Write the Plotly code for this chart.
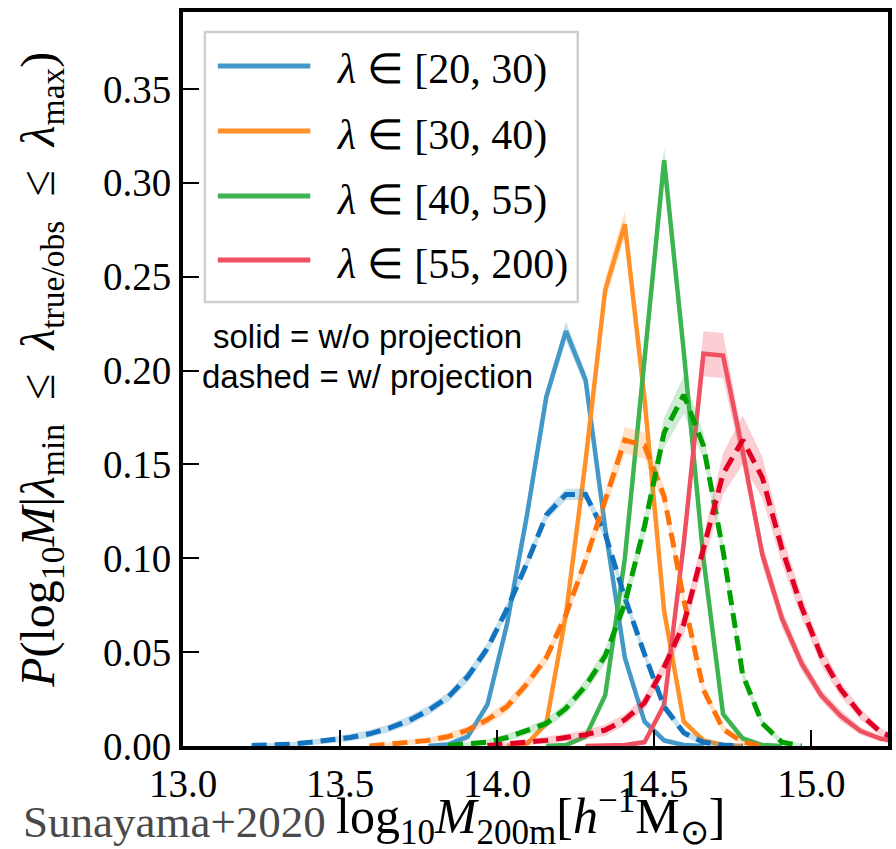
import plotly.graph_objects as go

# ---------------- data ----------------
x_bins = [13.21875, 13.28125, 13.34375, 13.40625, 13.46875, 13.53125, 13.59375,
          13.65625, 13.71875, 13.78125, 13.84375, 13.90625, 13.96875, 14.03125,
          14.09375, 14.15625, 14.21875, 14.28125, 14.34375, 14.40625, 14.46875,
          14.53125, 14.59375, 14.65625, 14.71875, 14.78125, 14.84375, 14.90625,
          14.96875, 15.03125, 15.09375, 15.15625, 15.21875, 15.28125]

labels = ["[20, 30)", "[30, 40)", "[40, 55)", "[55, 200)"]

# first bin index of each series (values before it are not drawn)
blue_solid_start = 9
blue_solid = [0.0, 0.0008, 0.005, 0.022, 0.065, 0.122, 0.186, 0.221, 0.195, 0.116,
              0.047, 0.013, 0.003, 0.0005, 0.0]
blue_solid_err = [0.001, 0.0015, 0.002, 0.0025, 0.003, 0.0035, 0.004, 0.005, 0.004,
                  0.003, 0.0025, 0.002, 0.0015, 0.001, 0.001]

blue_dash_start = 0
blue_dash = [0.0003, 0.0006, 0.001, 0.002, 0.003, 0.0045, 0.0065, 0.0095, 0.0135,
             0.019, 0.026, 0.037, 0.052, 0.073, 0.097, 0.123, 0.134, 0.134, 0.113,
             0.079, 0.049, 0.021, 0.007, 0.002, 0.0005, 0.0]
blue_dash_err = [0.001, 0.001, 0.001, 0.0015, 0.0015, 0.002, 0.002, 0.002, 0.0025,
                 0.0025, 0.0025, 0.003, 0.003, 0.003, 0.003, 0.003, 0.003, 0.003,
                 0.003, 0.003, 0.0025, 0.0025, 0.002, 0.0015, 0.001, 0.001]

orange_solid_start = 13
orange_solid = [0.0, 0.001, 0.012, 0.07, 0.152, 0.243, 0.278, 0.185, 0.072, 0.013,
                0.003, 0.0005, 0.0]
orange_solid_err = [0.001, 0.001, 0.002, 0.003, 0.005, 0.006, 0.007, 0.005, 0.003,
                    0.002, 0.001, 0.001, 0.001]

orange_dash_start = 6
orange_dash = [0.0, 0.001, 0.002, 0.003, 0.005, 0.0085, 0.014, 0.021, 0.033, 0.047,
               0.07, 0.099, 0.131, 0.163, 0.160, 0.133, 0.078, 0.03, 0.009, 0.002, 0.0]
orange_dash_err = [0.001, 0.001, 0.0015, 0.0015, 0.002, 0.002, 0.0025, 0.003, 0.003,
                   0.003, 0.0035, 0.004, 0.005, 0.007, 0.007, 0.005, 0.004, 0.003,
                   0.002, 0.0015, 0.001]

green_solid_start = 15
green_solid = [0.0, 0.0005, 0.005, 0.027, 0.10, 0.207, 0.312, 0.21, 0.10, 0.017,
               0.004, 0.0005, 0.0]
green_solid_err = [0.001, 0.001, 0.0015, 0.002, 0.004, 0.005, 0.007, 0.005, 0.004,
                   0.002, 0.0015, 0.001, 0.001]

green_dash_start = 10
green_dash = [0.0003, 0.001, 0.002, 0.0045, 0.008, 0.012, 0.02, 0.032, 0.048, 0.076,
              0.117, 0.167, 0.187, 0.16, 0.104, 0.038, 0.012, 0.002, 0.0]
green_dash_err = [0.001, 0.001, 0.0015, 0.002, 0.002, 0.0025, 0.003, 0.0035, 0.004,
                  0.005, 0.006, 0.008, 0.01, 0.007, 0.005, 0.003, 0.002, 0.0015, 0.001]

red_solid_start = 17
red_solid = [0.0, 0.0003, 0.0005, 0.002, 0.022, 0.108, 0.209, 0.208, 0.157, 0.102,
             0.068, 0.044, 0.027, 0.016, 0.008, 0.004, 0.002]
red_solid_err = [0.001, 0.001, 0.001, 0.0015, 0.003, 0.007, 0.012, 0.012, 0.008,
                 0.006, 0.005, 0.004, 0.003, 0.003, 0.002, 0.0015, 0.001]

red_dash_start = 12
red_dash = [0.0003, 0.001, 0.002, 0.003, 0.0045, 0.006, 0.0085, 0.014, 0.023, 0.042,
            0.065, 0.104, 0.145, 0.163, 0.143, 0.105, 0.074, 0.048, 0.030, 0.017,
            0.0076, 0.003]
red_dash_err = [0.001, 0.001, 0.0015, 0.002, 0.002, 0.0025, 0.003, 0.003, 0.0035,
                0.004, 0.006, 0.008, 0.011, 0.013, 0.011, 0.008, 0.006, 0.005, 0.004,
                0.003, 0.002, 0.0015]

# ---------------- styles ----------------
solid_colors = ["#4398c8", "#ff9128", "#3cb450", "#ee505f"]
dash_colors = ["#1473be", "#ff730a", "#00a000", "#e10023"]
solid_band = ["rgba(67,152,200,0.30)", "rgba(255,145,40,0.25)",
              "rgba(60,180,80,0.25)", "rgba(238,80,95,0.28)"]
dash_band = ["rgba(67,152,200,0.30)", "rgba(255,145,40,0.25)",
             "rgba(60,180,80,0.25)", "rgba(238,80,95,0.28)"]

solids = [(blue_solid_start, blue_solid, blue_solid_err),
          (orange_solid_start, orange_solid, orange_solid_err),
          (green_solid_start, green_solid, green_solid_err),
          (red_solid_start, red_solid, red_solid_err)]
dashes = [(blue_dash_start, blue_dash, blue_dash_err),
          (orange_dash_start, orange_dash, orange_dash_err),
          (green_dash_start, green_dash, green_dash_err),
          (red_dash_start, red_dash, red_dash_err)]

fig = go.Figure()


def add_series(start, vals, errs, color, band_color, dash, width):
    xs = x_bins[start:start + len(vals)]
    upper = [v + e for v, e in zip(vals, errs)]
    lower = [v - e for v, e in zip(vals, errs)]
    fig.add_trace(go.Scatter(x=xs + xs[::-1], y=upper + lower[::-1], fill="toself",
                             fillcolor=band_color, line=dict(width=0), mode="lines",
                             hoverinfo="skip", showlegend=False))
    fig.add_trace(go.Scatter(x=xs, y=vals, mode="lines",
                             line=dict(color=color, width=width, dash=dash),
                             showlegend=False))


for i, (s, v, e) in enumerate(solids):
    add_series(s, v, e, solid_colors[i], solid_band[i], "solid", 4.5)
for i, (s, v, e) in enumerate(dashes):
    add_series(s, v, e, dash_colors[i], dash_band[i], "15px,8px", 5)

# ---------------- layout ----------------
PW, PH = 896 - 183 - 4, 849 - 12 - 103


def px_x(p):
    return (p - 183) / PW


def px_y(p):
    return (849 - 103 - p) / PH


serif = "Liberation Serif"
axis_common = dict(showline=True, linewidth=4, linecolor="black", mirror=True,
                   ticks="inside", ticklen=16, tickwidth=2, tickcolor="black",
                   showgrid=False, zeroline=False,
                   tickfont=dict(family=serif, size=39, color="black"))

fig.update_layout(
    width=896, height=849,
    margin=dict(l=183, r=4, t=12, b=103),
    paper_bgcolor="white", plot_bgcolor="white",
    showlegend=False,
    xaxis=dict(range=[13.0, 15.2437], tick0=13.0, dtick=0.5, tickformat=".1f",
               **axis_common),
    yaxis=dict(range=[0, 0.391], tick0=0, dtick=0.05, tickformat=".2f",
               **axis_common),
)

# legend (box, line samples, labels)
shapes = [dict(type="rect", xref="paper", yref="paper",
               x0=px_x(205), x1=px_x(580), y0=px_y(302), y1=px_y(32),
               line=dict(color="#cfcfcf", width=2.5), fillcolor="white", layer="above")]
annotations = []
row_y = [66, 131, 196, 260]
for i, lab in enumerate(labels):
    shapes.append(dict(type="line", xref="paper", yref="paper",
                       x0=px_x(218), x1=px_x(311), y0=px_y(row_y[i]), y1=px_y(row_y[i]),
                       line=dict(color=solid_colors[i], width=5), layer="above"))
    annotations.append(dict(xref="paper", yref="paper", x=px_x(335), y=px_y(row_y[i] + 4),
                            xanchor="left", yanchor="middle", showarrow=False,
                            text="<i>λ</i> ∈ " + lab,
                            font=dict(family=serif, size=42, color="black")))

annotations.append(dict(xref="paper", yref="paper", x=px_x(369), y=px_y(336),
                        xanchor="center", yanchor="middle", showarrow=False,
                        text="solid = w/o projection",
                        font=dict(family="Liberation Sans", size=33, color="black")))
annotations.append(dict(xref="paper", yref="paper", x=px_x(369), y=px_y(376),
                        xanchor="center", yanchor="middle", showarrow=False,
                        text="dashed = w/ projection",
                        font=dict(family="Liberation Sans", size=33, color="black")))

# axis titles
annotations.append(dict(xref="paper", yref="paper", x=px_x(20), y=px_y(822),
                        xanchor="left", yanchor="middle", showarrow=False,
                        text="Sunayama+2020",
                        font=dict(family=serif, size=45, color="#4a4a4a")))
annotations.append(dict(xref="paper", yref="paper", x=px_x(335), y=px_y(816),
                        xanchor="left", yanchor="middle", showarrow=False,
                        text="log<sub>10</sub><i>M</i><sub>200m</sub>[<i>h</i><sup>−1</sup>M<sub>⊙</sub>]",
                        font=dict(family=serif, size=50, color="black")))
annotations.append(dict(xref="paper", yref="paper", x=px_x(40), y=px_y(370),
                        xanchor="center", yanchor="middle", showarrow=False, textangle=-90,
                        text="<i>P</i>(log<sub>10</sub><i>M</i>|<i>λ</i><sub>min</sub>  ≤  "
                             "<i>λ</i><sub>true/obs</sub>  ≤  <i>λ</i><sub>max</sub>)",
                        font=dict(family=serif, size=48, color="black")))

fig.update_layout(shapes=shapes, annotations=annotations)
fig.write_html("out.html")
